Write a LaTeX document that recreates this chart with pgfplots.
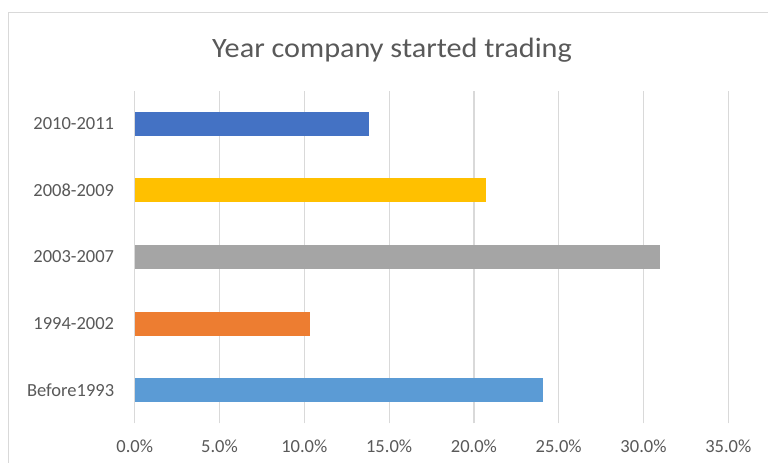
\documentclass[border=0pt]{standalone}
\usepackage{fontspec}
\setmainfont{Carlito}
\usepackage{graphicx}
\usepackage{pgfplots}
\pgfplotsset{compat=1.18}
\definecolor{txt}{HTML}{595959}
\definecolor{grid}{HTML}{D9D9D9}
\definecolor{frame}{HTML}{D9D9D9}
\definecolor{cA}{HTML}{4472C4}
\definecolor{cB}{HTML}{FFC000}
\definecolor{cC}{HTML}{A5A5A5}
\definecolor{cD}{HTML}{ED7D31}
\definecolor{cE}{HTML}{5B9BD5}
\begin{document}
\begin{tikzpicture}[x=1bp,y=1bp]
\useasboundingbox (0,0) rectangle (768,463);
\clip (0,0) rectangle (768,463);
\fill[white] (0,0) rectangle (768,463);
\draw[frame, line width=1.2bp] (8.3,-10) -- (8.3,450.3) -- (800,450.3);
\node[anchor=base, inner sep=0pt, text=txt, font=\fontsize{28bp}{32bp}\selectfont] at (392,405.7) {\scalebox{1.08}[1]{Year company started trading}};
\begin{axis}[
  scale only axis,
  width=593.6bp, height=332.6bp,
  at={(134.7bp,39.7bp)}, anchor=south west,
  xbar, bar width=24bp,
  xmin=0, xmax=35, ymin=-0.5, ymax=4.5,
  axis line style={draw=none},
  major tick length=0pt,
  xmajorgrids, grid style={draw=grid, line width=1.2bp},
  xtick={0,5,10,15,20,25,30,35},
  xticklabels={0.0\%,5.0\%,10.0\%,15.0\%,20.0\%,25.0\%,30.0\%,35.0\%},
  ytick={0,1,2,3,4},
  yticklabels={Before1993,1994-2002,2003-2007,2008-2009,2010-2011},
  ticklabel style={text=txt, font=\fontsize{18.5bp}{22bp}\selectfont, inner sep=0pt},
  xticklabel style={anchor=north, yshift=-16.7bp},
  yticklabel style={anchor=east, xshift=-20.4bp},
  clip=false,
]
\addplot[fill=cE, draw=none, bar shift=0pt] coordinates {(24.1,0)};
\addplot[fill=cD, draw=none, bar shift=0pt] coordinates {(10.35,1)};
\addplot[fill=cC, draw=none, bar shift=0pt] coordinates {(31.0,2)};
\addplot[fill=cB, draw=none, bar shift=0pt] coordinates {(20.7,3)};
\addplot[fill=cA, draw=none, bar shift=0pt] coordinates {(13.8,4)};
\end{axis}
\end{tikzpicture}
\end{document}
